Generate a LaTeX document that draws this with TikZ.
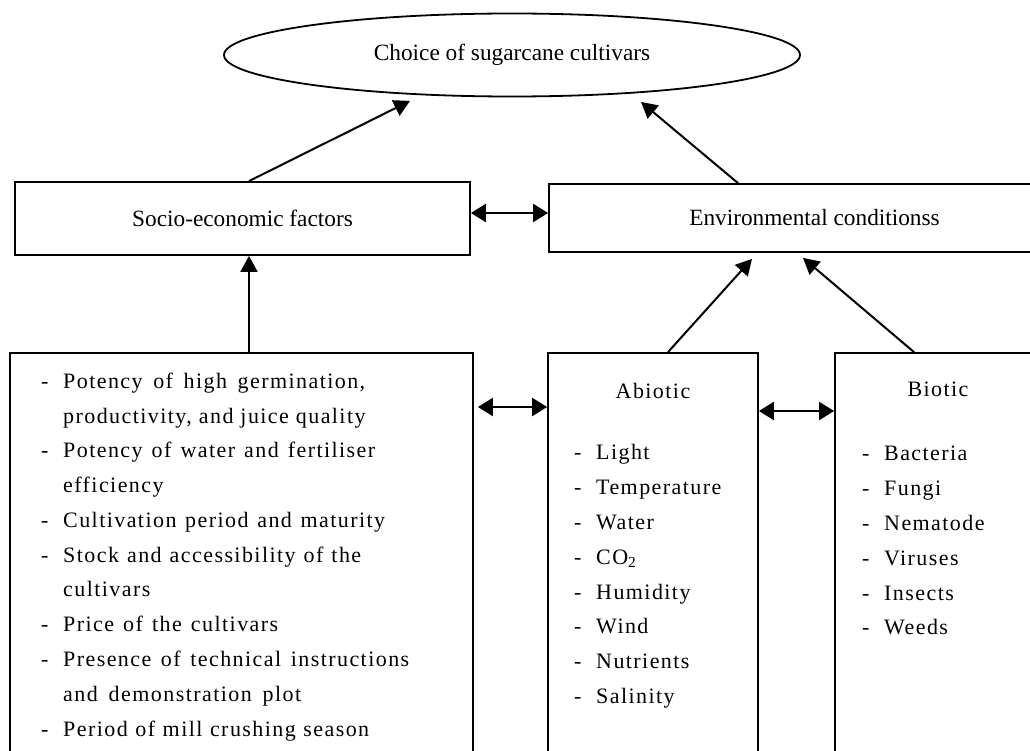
\documentclass[tikz,border=0pt]{standalone}
\usepackage{fontspec}
\setmainfont{Liberation Serif}
\newfontfamily\trackfont[LetterSpace=6.5]{Liberation Serif}
\usetikzlibrary{arrows.meta,shapes.geometric,positioning}

\newcommand{\itm}{\makebox[22pt][l]{-}}
\newcommand{\cnt}{\hspace*{22pt}}
\newcommand{\stretchline}[2]{\makebox[#1pt][s]{#2}}

\begin{document}
\begin{tikzpicture}[x=1pt,y=-1pt,
	box/.style={draw,line width=1.8pt,inner sep=0pt},
	lbl/.style={font=\fontsize{23.3}{28}\selectfont},
	itemtxt/.style={font=\trackfont\fontsize{22}{26}\selectfont,anchor=base west,inner sep=0pt},
	link/.style={line width=2pt,-{Triangle[length=16pt,width=17pt]}},
	both/.style={line width=2.2pt,{Triangle[length=15pt,width=18pt]}-{Triangle[length=15pt,width=18pt]}}]
	\clip (0,0) rectangle (1030,751);
	% boxes
	\node[box,ellipse,minimum width=576pt,minimum height=83pt,lbl] (choice) at (512,55) {Choice of sugarcane cultivars};
	\node[box,minimum width=455pt,minimum height=73pt,lbl] (socio) at (242.5,218.5) {Socio-economic factors};
	\node[box,minimum width=531pt,minimum height=68pt,lbl] (env) at (814.5,218) {Environmental conditionss};
	\node[box,minimum width=463pt,minimum height=420pt] (potency) at (241.5,563) {};
	\node[box,minimum width=210pt,minimum height=420pt] (abiotic) at (653,563) {};
	\node[box,minimum width=210pt,minimum height=420pt] (biotic) at (940,563) {};
	% arrows
	\draw[link] ([xshift=6.5pt]socio.north) -- ([xshift=-102pt,yshift=-3.5pt]choice.south);
	\draw[link] ([xshift=-76.5pt]env.north) -- ([xshift=129pt,yshift=-4.5pt]choice.south);
	\draw[both] ([yshift=5.5pt]socio.east) -- ([yshift=5pt]env.west);
	\draw[link] ([xshift=7.5pt]potency.north) -- ([xshift=6.5pt]socio.south);
	\draw[link] ([xshift=15pt]abiotic.north) -- ([xshift=-62.5pt,yshift=-6pt]env.south);
	\draw[link] ([xshift=-26pt]biotic.north) -- ([xshift=-11.5pt,yshift=-5pt]env.south);
	\draw[both,shorten <=4pt] ([yshift=156pt]potency.east) -- ([yshift=156pt]abiotic.west);
	\draw[both] ([yshift=152pt]abiotic.east) -- ([yshift=152pt]biotic.west);
	% texts
	\foreach \yy/\txt in {
		388/{\itm\stretchline{302}{Potency of high germination,}},
		423/{\cnt productivity, and juice quality},
		457/{\itm\stretchline{312}{Potency of water and fertiliser}},
		492/{\cnt efficiency},
		527/{\itm\stretchline{322}{Cultivation period and maturity}},
		562/{\itm\stretchline{298}{Stock and accessibility of the}},
		596/{\cnt cultivars},
		631/{\itm\stretchline{215}{Price of the cultivars}},
		666/{\itm\stretchline{346}{Presence of technical instructions}},
		701/{\cnt\stretchline{238}{and demonstration plot}},
		736/{\itm\stretchline{306}{Period of mill crushing season}}}
		\node[itemtxt] (pot\yy) at (41,\yy) {\txt};
	\node[itemtxt,anchor=base] (abiotitle) at (653,398) {Abiotic};
	\node[itemtxt,anchor=base] (biotitle) at (938,396) {Biotic};
	\foreach \t [count=\i] in {Light,Temperature,Water,{CO\textsubscript{2}},Humidity,Wind,Nutrients,Salinity}
		\node[itemtxt] (abio\i) at (574,425+34.8*\i) {\itm\t};
	\foreach \t [count=\i] in {Bacteria,Fungi,Nematode,Viruses,Insects,Weeds}
		\node[itemtxt] (bio\i) at (862,426+34.8*\i) {\itm\t};
\end{tikzpicture}
\end{document}
